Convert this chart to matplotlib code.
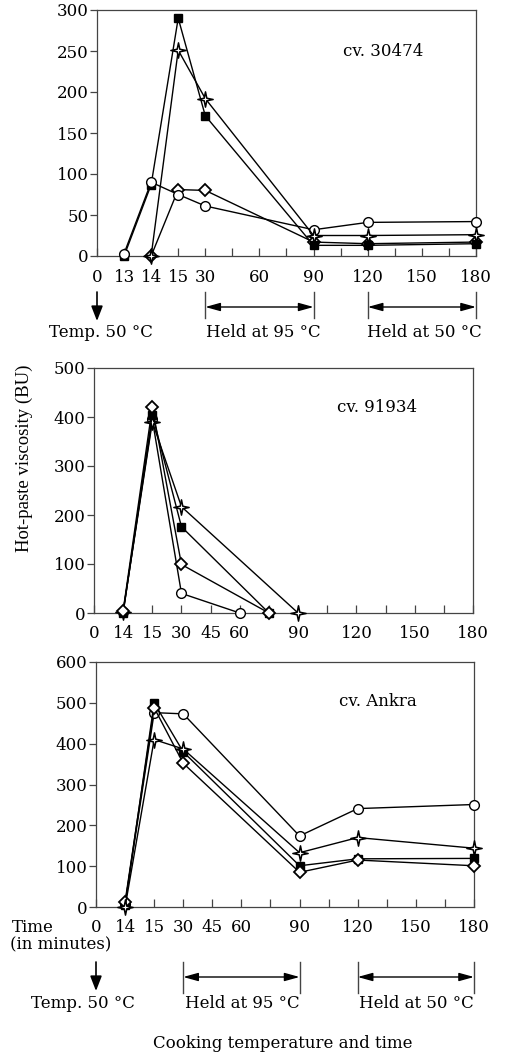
import numpy as np
import matplotlib
matplotlib.use('Agg')
import matplotlib.pyplot as plt
from matplotlib.path import Path
from matplotlib.transforms import blended_transform_factory

# ---------------- data ----------------
# Panel 1: cv. 30474
p1_circle_t = [13, 14, 15, 30, 90, 120, 180]
p1_circle_v = [3, 90, 75, 61, 32, 41, 42]
p1_square_t = [13, 14, 15, 30, 90, 120, 180]
p1_square_v = [0, 87, 290, 171, 13, 13, 15]
p1_diamond_t = [14, 15, 30, 90, 120, 180]
p1_diamond_v = [0, 81, 80, 17, 15, 17]
p1_star_t = [14, 15, 30, 90, 120, 180]
p1_star_v = [0, 251, 192, 25, 25, 26]

# Panel 2: cv. 91934
p2_circle_t = [14, 15, 30, 60]
p2_circle_v = [3, 395, 40, 0]
p2_square_t = [14, 15, 30, 75]
p2_square_v = [0, 405, 176, 0]
p2_diamond_t = [14, 15, 30, 75]
p2_diamond_v = [5, 420, 99, 0]
p2_star_t = [14, 15, 30, 90]
p2_star_v = [3, 390, 217, 0]

# Panel 3: cv. Ankra
p3_circle_t = [14, 15, 30, 90, 120, 180]
p3_circle_v = [8, 476, 473, 174, 241, 251]
p3_square_t = [14, 15, 30, 90, 120, 180]
p3_square_v = [5, 500, 380, 101, 118, 119]
p3_diamond_t = [14, 15, 30, 90, 120, 180]
p3_diamond_v = [13, 488, 352, 85, 115, 101]
p3_star_t = [14, 15, 30, 90, 120, 180]
p3_star_v = [0, 410, 387, 133, 170, 144]

p1_tick_labels = [0, 13, 14, 15, 30, 60, 90, 120, 150, 180]
p23_tick_labels = [0, 14, 15, 30, 45, 60, 90, 120, 150, 180]
cultivars = ["cv. 30474", "cv. 91934", "cv. Ankra"]

# axis breakpoints (time -> position on the non-linear time axis)
p1_break_t = [0, 13, 14, 15, 30, 180]
p1_break_p = [0, 1, 2, 3, 4, 14]
p23_break_t = [0, 14, 15, 30, 180]
p23_break_p = [0, 1, 2, 3, 13]

# ---------------- style ----------------
plt.rcParams['font.family'] = ['DejaVu Serif']
FS = 12
s = 0.17
star = Path([(0, 1), (s, s), (1, 0), (s, -s), (0, -1), (-s, -s), (-1, 0), (-s, s), (0, 1)],
            [Path.MOVETO] + [Path.LINETO] * 7 + [Path.CLOSEPOLY])

styles = {
    'circle': dict(marker='o', ms=7, mfc='white', mec='black', mew=1.0),
    'square': dict(marker='s', ms=5.5, mfc='black', mec='black', mew=1.0),
    'diamond': dict(marker='D', ms=6, mfc='white', mec='black', mew=1.3),
    'star': dict(marker=star, ms=11, mfc='white', mec='black', mew=1.1),
}

W, H = 506, 1057
fig = plt.figure(figsize=(W / 100, H / 100), dpi=100)


def fy(ypix):
    return 1 - ypix / H


def make_ax(l, r, t, b):
    return fig.add_axes([l / W, fy(b), (r - l) / W, (b - t) / H])


panels = [
    dict(box=(97, 476, 10, 256), ylim=300, ystep=50, labels=p1_tick_labels,
         bt=p1_break_t, bp=p1_break_p,
         series=[('diamond', p1_diamond_t, p1_diamond_v), ('square', p1_square_t, p1_square_v),
                 ('circle', p1_circle_t, p1_circle_v), ('star', p1_star_t, p1_star_v)],
         text_xy=(383, 52)),
    dict(box=(94, 473, 368, 613), ylim=500, ystep=100, labels=p23_tick_labels,
         bt=p23_break_t, bp=p23_break_p,
         series=[('circle', p2_circle_t, p2_circle_v), ('star', p2_star_t, p2_star_v),
                 ('square', p2_square_t, p2_square_v), ('diamond', p2_diamond_t, p2_diamond_v)],
         text_xy=(377, 408)),
    dict(box=(96, 474, 662, 907), ylim=600, ystep=100, labels=p23_tick_labels,
         bt=p23_break_t, bp=p23_break_p,
         series=[('circle', p3_circle_t, p3_circle_v), ('square', p3_square_t, p3_square_v),
                 ('diamond', p3_diamond_t, p3_diamond_v), ('star', p3_star_t, p3_star_v)],
         text_xy=(378, 702)),
]

axes = []
for i, p in enumerate(panels):
    ax = make_ax(*p['box'])
    axes.append(ax)
    pmax = p['bp'][-1]
    for z, (name, t, v) in enumerate(p['series']):
        x = np.interp(t, p['bt'], p['bp'])
        ax.plot(x, v, color='black', lw=1.0, zorder=3 + z, clip_on=False, **styles[name])
    ax.set_xlim(0, pmax)
    ax.set_ylim(0, p['ylim'])
    lab_pos = np.interp(p['labels'], p['bt'], p['bp'])
    ax.set_xticks(lab_pos)
    ax.set_xticklabels([str(l) for l in p['labels']], fontsize=FS)
    minor = [k for k in range(1, int(pmax)) if k not in set(np.round(lab_pos).astype(int))]
    ax.set_xticks(minor, minor=True)
    ax.set_yticks(np.arange(0, p['ylim'] + 1, p['ystep']))
    ax.tick_params(axis='y', labelsize=FS, direction='out', length=5, width=0.9, pad=1, color='#444444')
    ax.tick_params(axis='x', which='both', direction='in', length=6, width=0.9, pad=9, color='#444444')
    for sp in ax.spines.values():
        sp.set_color('#444444')
        sp.set_linewidth(0.9)
    tx, ty = p['text_xy']
    fig.text(tx / W, fy(ty), cultivars[i], fontsize=FS, ha='center', va='center')


def annotate_temps(ax, xs, y_arrow, y_bar_top, y_bar_bot, y_text, text_x):
    tr = blended_transform_factory(ax.transData, fig.transFigure)
    # down arrow at 0
    ax.annotate('', xy=(0, fy(y_bar_top + 29)), xytext=(0, fy(y_bar_top)),
                xycoords=tr, textcoords=tr,
                arrowprops=dict(arrowstyle='-|>,head_length=0.9,head_width=0.35', color='black', lw=1.2,
                                shrinkA=0, shrinkB=0), annotation_clip=False)
    for (a, b) in xs:
        for xx in (a, b):
            ax.plot([xx, xx], [fy(y_bar_top), fy(y_bar_bot)], transform=tr, color='#444444',
                    lw=1.0, clip_on=False)
        ax.annotate('', xy=(b, fy(y_arrow)), xytext=(a, fy(y_arrow)), xycoords=tr, textcoords=tr,
                    arrowprops=dict(arrowstyle='<|-|>,head_length=0.9,head_width=0.25', color='black',
                                    lw=1.0, shrinkA=0, shrinkB=0), annotation_clip=False)
    labels = ['Temp. 50 °C', 'Held at 95 °C', 'Held at 50 °C']
    for lx, lab in zip(text_x, labels):
        fig.text(lx / W, fy(y_text), lab, fontsize=FS, ha='center', va='center')


annotate_temps(axes[0], [(4, 8), (10, 14)], 307, 292, 318, 333, [101, 263, 424])
annotate_temps(axes[2], [(3, 7), (9, 13)], 977, 962, 993, 1003, [83, 242, 416])

fig.text(12 / W, fy(927), 'Time', fontsize=FS, ha='left', va='center')
fig.text(10 / W, fy(945), '(in minutes)', fontsize=FS, ha='left', va='center')
fig.text(283 / W, fy(1043), 'Cooking temperature and time', fontsize=FS, ha='center', va='center')
fig.text(24 / W, fy(458), 'Hot-paste viscosity (BU)', fontsize=13.5, family='Liberation Serif',
         rotation=90, ha='center', va='center')

fig.savefig('out.png', dpi=100)
